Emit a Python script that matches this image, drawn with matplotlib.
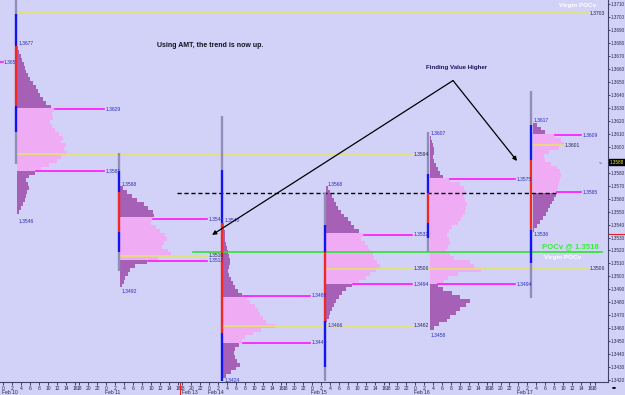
import matplotlib
matplotlib.use('Agg')
import numpy as np
import matplotlib.pyplot as plt
import matplotlib.transforms as mtransforms

plt.rcParams['font.family'] = ['Liberation Sans', 'DejaVu Sans']

BG = '#d2d2f9'
PURPLE = '#a660b6'
PINK = '#efacf4'
MAGENTA = '#ff14ff'
YELLOW = '#e4e46c'
LINE_COLS = {'g': '#8e8eb8', 'b': '#1414f0', 'r': '#f02828'}
TXT_BLUE = '#2a2ac4'
TXT_DARK = '#26264a'

# --- data -------------------------------------------------------------
days = ['Feb 10', 'Feb 11', 'Feb 14', 'Feb 15', 'Feb 16', 'Feb 17']
hours = [0, 2, 4, 6, 8, 10, 12, 14, 16, 18, 20, 22]

DAY_LEN = 23      # the 17:00 hour is skipped on the time axis
STEP = 0.0003     # price bin of the profiles
PX = 1 / 4.478    # hours of axis per TPO unit

# top price of each profile (bins go down by STEP)
tops = [1.3676, 1.3568, 1.3540, 1.3568, 1.3607, 1.3617]

feb10_tpo = [1, 2, 4, 5, 7, 8, 9, 11, 13, 16, 19, 21, 23, 26, 29, 34, 37, 35, 36, 33, 35,
             38, 42, 46, 44, 49, 47, 50, 44, 40, 32, 24, 18, 12, 9, 11, 12, 10, 9, 8, 6, 4, 2]
feb11_tpo = [3, 7, 12, 17, 24, 28, 33, 34, 32, 31, 36, 40, 45, 47, 44, 42, 48, 51, 38, 27,
             15, 10, 8, 5, 4, 2]
feb14_tpo = [1, 1, 2, 2, 2, 3, 4, 5, 6, 7, 7, 6, 5, 6, 8, 10, 12, 15, 19, 24, 27, 32, 35,
             37, 40, 43, 52, 38, 30, 22, 19, 16, 12, 11, 12, 14, 17, 13, 8, 3]
feb15_tpo = [2, 4, 6, 8, 10, 12, 15, 18, 22, 25, 28, 33, 37, 35, 39, 42, 44, 47, 48, 51, 54,
             50, 44, 40, 33, 26, 20, 16, 13, 10, 8, 6, 4, 3, 1]
feb16_tpo = [1, 2, 3, 4, 4, 3, 4, 6, 8, 10, 13, 20, 30, 34, 36, 34, 35, 37, 36, 35, 33, 31,
             28, 22, 19, 17, 19, 20, 18, 16, 20, 24, 40, 44, 51, 28, 18, 14, 8, 13, 22, 30,
             40, 36, 30, 26, 20, 17, 9, 4]
feb17_tpo = [4, 8, 12, 22, 28, 31, 26, 16, 11, 12, 18, 24, 27, 28, 27, 26, 25, 24, 23, 21,
             19, 17, 15, 13, 10, 7, 4, 1]
tpo = [feb10_tpo, feb11_tpo, feb14_tpo, feb15_tpo, feb16_tpo, feb17_tpo]

vah = [1.3629, 1.3544, 1.3485, 1.3532, 1.3575, 1.3609]
val = [1.3581, 1.3512, 1.3449, 1.3494, 1.3494, 1.3565]
poc = [1.3594, 1.3516, 1.3462, 1.3506, 1.3506, 1.3601]
high = [1.3677, 1.3568, 1.3540, 1.3568, 1.3607, 1.3617]
low = [1.3546, 1.3492, 1.3424, 1.3466, 1.3458, 1.3536]

# where the POC / value-area lines stop (axis hours)
poc_end = [91.3, 45.4, 91.3, 91.3, 130.6, 125.0]
va_end = [22.4, 45.4, 68.4, 91.3, 114.3, 128.9]

# range bar on each profile: price breaks and colour of each piece
range_breaks = [
    [1.3713, 1.3702, 1.3678, 1.3631, 1.3611, 1.3587],
    [1.3595, 1.3581, 1.3565, 1.3534, 1.3519, 1.3504],
    [1.3624, 1.3582, 1.3541, 1.3456, 1.3419],
    [1.3564, 1.3540, 1.3519, 1.3466, 1.3430, 1.3419],
    [1.3611, 1.3579, 1.3564, 1.3541, 1.3530, 1.3519],
    [1.3643, 1.3617, 1.3590, 1.3536, 1.3510, 1.3483],
]
range_cols = ['gbrbg', 'gbrbg', 'gbrb', 'gbrbg', 'gbrbg', 'gbrbg']

virgin_top = 1.3703
green_level = 1.3519
dashed_level = 1.3564
last_price = 1.3588
arrow_apex = (100.4, 1.3651)
arrow_tips = [(46.6, 1.3532), (114.7, 1.3589)]

# --- figure -----------------------------------------------------------
fig = plt.figure(figsize=(6.25, 3.95), dpi=100, facecolor=BG)
ax = fig.add_axes([0, 13 / 395, 608 / 625, 382 / 395], facecolor=BG)
ax.set_xlim(-0.74, 135.0)
ax.set_ylim(1.34186, 1.37131)
fs = 3.6

for d in range(6):
    x0 = d * DAY_LEN + 2.9
    n = len(tpo[d])
    prices = [round(tops[d] - STEP * i, 4) for i in range(n)]
    widths = [w * PX for w in tpo[d]]
    cols = [PINK if val[d] - 1e-6 <= p <= vah[d] + 1e-6 else PURPLE for p in prices]
    ax.barh(prices, widths, height=STEP, left=x0 + 0.25, color=cols, linewidth=0, zorder=2)

    br = range_breaks[d]
    for k, c in enumerate(range_cols[d]):
        ax.plot([x0, x0], [br[k], br[k + 1]], color=LINE_COLS[c], lw=1.7,
                solid_capstyle='butt', zorder=5)

    # point of control
    ax.plot([x0, poc_end[d]], [poc[d], poc[d]], color=YELLOW, lw=1.2, zorder=3)
    ax.text(poc_end[d] + 0.4, poc[d], f'{poc[d]:.4f}', fontsize=fs, color=TXT_DARK,
            va='center', ha='left', zorder=6)

    # value area high / low
    for lvl in (vah[d], val[d]):
        i = min(range(n), key=lambda j: abs(prices[j] - lvl))
        xs = x0 + 0.25 + widths[i] + 0.2
        ax.plot([xs, va_end[d]], [lvl, lvl], color=MAGENTA, lw=1.2, zorder=3)
        ax.text(va_end[d] + 0.4, lvl, f'{lvl:.4f}', fontsize=fs, color=TXT_BLUE,
                va='center', ha='left', zorder=6)

    ax.text(x0 + 0.5, high[d] + 0.0001, f'{high[d]:.4f}', fontsize=fs, color=TXT_BLUE,
            va='bottom', ha='left', zorder=6)
    ax.text(x0 + 0.5, low[d] - 0.0002, f'{low[d]:.4f}', fontsize=fs, color=TXT_BLUE,
            va='top', ha='left', zorder=6)

# leftover level from the previous week
ax.plot([-0.74, 0.0], [1.3665, 1.3665], color=MAGENTA, lw=1.2)
ax.text(0.05, 1.3665, '1.365', fontsize=fs, color=TXT_BLUE, va='center', ha='left')

# virgin POC at the top
ax.plot([3.0, 130.6], [virgin_top, virgin_top], color=YELLOW, lw=1.2, zorder=3)
ax.text(131.0, virgin_top, f'{virgin_top:.4f}', fontsize=fs, color=TXT_DARK, va='center')
ax.text(128.1, 1.37085, 'Virgin POCv', fontsize=4.6, color='white', fontweight='bold',
        ha='center', va='center')
ax.text(124.8, 1.35142, 'Virgin POCv', fontsize=4.6, color='white', fontweight='bold',
        ha='center', va='center', zorder=6)

# green POCv line and dashed level
ax.plot([42.4, 133.7], [green_level, green_level], color='#2ee02e', lw=1.2, zorder=4)
ax.text(126.6, 1.35232, 'POCv @ 1.3518', fontsize=5.6, color='#30f030',
        fontweight='bold', ha='center', va='center', zorder=6)
ax.plot([38.8, 123.4], [dashed_level, dashed_level], color='black', lw=1.0,
        dashes=(3, 2), zorder=4)

# annotations
ax.text(46.2, 1.36784, 'Using AMT, the trend is now up.', fontsize=5.0,
        fontweight='bold', color='#101020', ha='center', va='center')
ax.text(101.1, 1.36614, 'Finding Value Higher', fontsize=4.4, fontweight='bold',
        color='#14145e', ha='center', va='center')
for tip in arrow_tips:
    ax.annotate('', xy=tip, xytext=arrow_apex,
                arrowprops=dict(arrowstyle='-|>', color='black', lw=0.9,
                                mutation_scale=6, shrinkA=0, shrinkB=0), zorder=7)

# --- axes ---------------------------------------------------------------
pos, lab = [], []
for d in range(6):
    hs = hours if d < 5 else hours[:10]
    for h in hs:
        pos.append(d * DAY_LEN + (h if h < 17 else h - 1))
        lab.append(str(h))
ax.set_xticks(pos, lab)
ax.tick_params(axis='x', labelsize=fs, length=2, pad=0.6, colors=TXT_DARK, width=0.6)

tr = mtransforms.blended_transform_factory(ax.transData, ax.transAxes)
for d in range(6):
    ax.text(d * DAY_LEN - 0.3, -0.027, days[d], fontsize=fs, color=TXT_DARK,
            transform=tr, ha='left', va='center', clip_on=False)
ax.text(39.8, -0.027, 'Feb 13', fontsize=fs, color=TXT_DARK, transform=tr,
        ha='left', va='center', clip_on=False)
ax.plot([39.5, 39.5], [0, -0.035], color='#f02020', lw=0.8, transform=tr, clip_on=False)

# price scale on the right; the 1.3590 label sits under the last-price tag
ax.yaxis.tick_right()
yt = np.arange(1.3420, 1.37101, 0.001)
ax.set_yticks(yt, ['' if abs(v - 1.3590) < 1e-6 else f'{v:.4f}' for v in yt])
ax.tick_params(axis='y', labelsize=3.3, length=1.5, pad=0.4, colors=TXT_DARK, width=0.6)

for s in ('top', 'left'):
    ax.spines[s].set_visible(False)
for s in ('right', 'bottom'):
    ax.spines[s].set_color('#404068')
    ax.spines[s].set_linewidth(0.8)

# current price tag on the price scale
ty = mtransforms.blended_transform_factory(ax.transAxes, ax.transData)
ax.text(1.003, last_price, f'{last_price:.4f}', fontsize=3.3, color='#f0f040',
        transform=ty, ha='left', va='center', clip_on=False, zorder=8,
        bbox=dict(boxstyle='square,pad=0.1', fc='black', ec='black'))
ax.text(0.992, last_price, '<-', fontsize=3.2, color=TXT_DARK, transform=ty,
        ha='right', va='center', clip_on=False)
ax.plot([1.002, 1.03], [1.3533, 1.3533], color='#e02020', lw=0.8, transform=ty,
        clip_on=False)

fig.text(0.978, 0.01, '\u25aa\u25aa', fontsize=5, color='black', ha='left', va='bottom')

fig.savefig('out.png', dpi=100, facecolor=BG)
